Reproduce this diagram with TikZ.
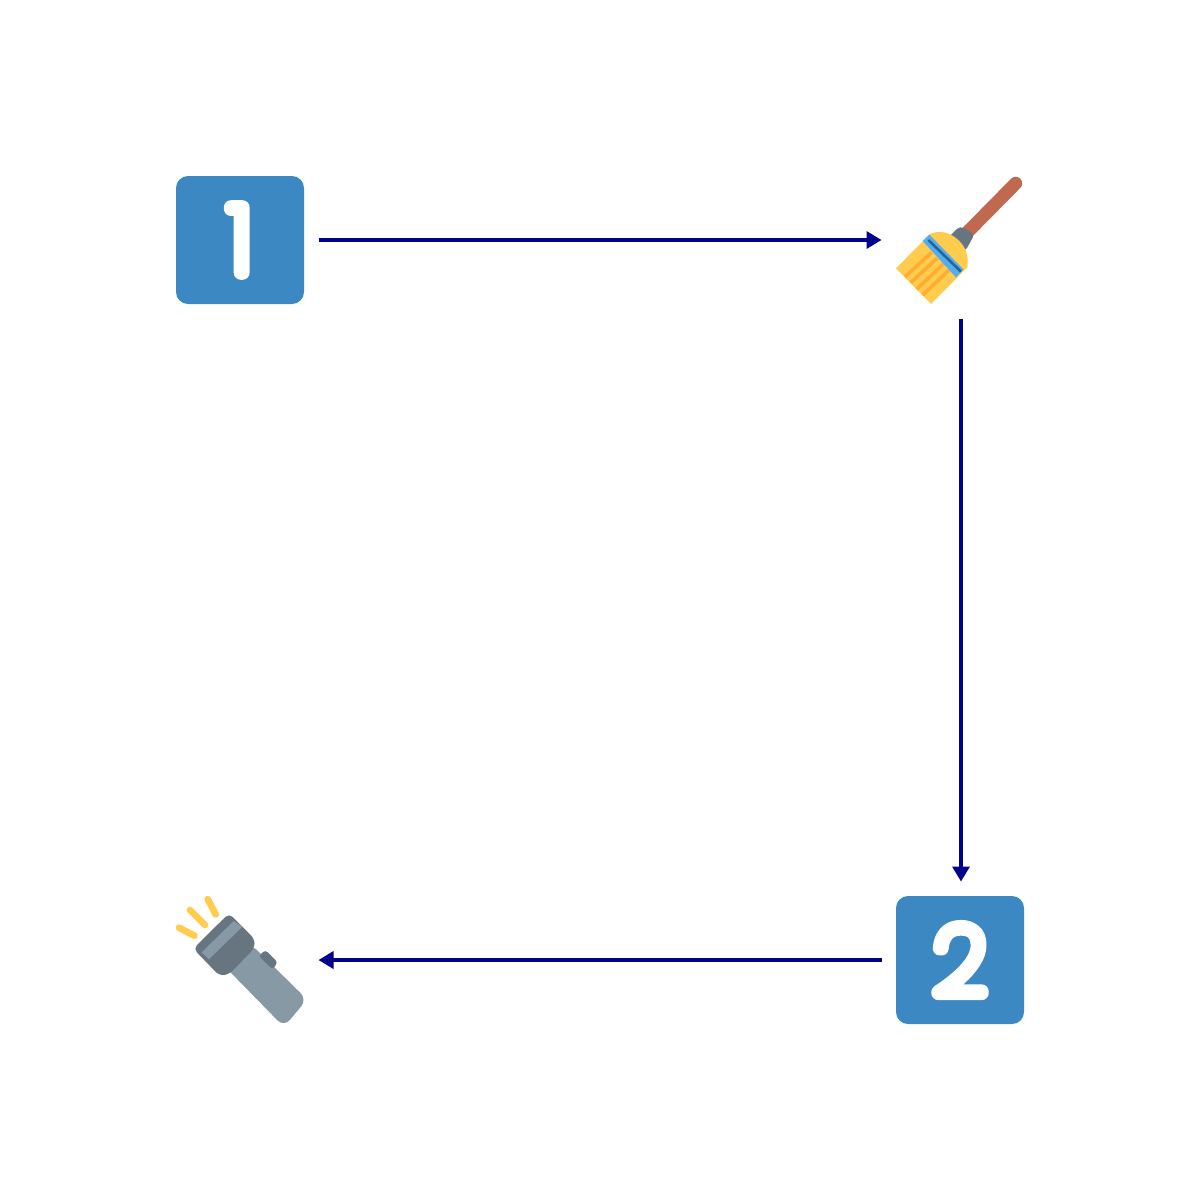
\documentclass[tikz,border=0pt]{standalone}
\usepackage{fontspec}
\setmainfont{Poppins Thin}
\usetikzlibrary{arrows.meta}
\definecolor{keyblue}{HTML}{3B88C3}
\definecolor{flowblue}{HTML}{00008B}
\definecolor{handle}{HTML}{C1694F}
\definecolor{slate}{HTML}{66757F}
\definecolor{steel}{HTML}{8899A6}
\definecolor{straw}{HTML}{FFCC4D}
\definecolor{strawdark}{HTML}{FFAC33}
\definecolor{band}{HTML}{55ACEE}
\definecolor{banddark}{HTML}{226699}
\newcommand{\rounddigit}[1]{\special{pdf:code 2 Tr 14 w 1 j 1 J 1 1 1 RG}#1\special{pdf:code 0 Tr}}
\tikzset{
  cell/.style={minimum size=128pt,inner sep=0pt,outer sep=14.5pt,shape=rectangle},
  keycap/.style={cell,fill=keyblue,rounded corners=12pt,text=white,font=\fontsize{93pt}{93pt}\selectfont},
  flow/.style={draw=flowblue,line width=3.4pt,-{Triangle[length=15pt,width=17pt]}},
  art/.style={shift={(#1)},scale=1/3}
}
\begin{document}
\begin{tikzpicture}[x=1pt,y=-1pt]
\useasboundingbox (0,0) rectangle (1200,1200);
\fill[white] (0,0) rectangle (1200,1200);
\node[keycap] (one) at (240,240) {\rounddigit{1}};
\node[cell] (brush) at (960,240) {};
\node[keycap] (two) at (960,960) {\rounddigit{2}};
\node[cell] (torch) at (240,960) {};
% brush
\begin{scope}[art={880,160}]
\draw[handle,line width=13pt,line cap=round] (262,217) -- (407,70);
\fill[slate,rounded corners=4pt] (205,232) -- (240,198) -- (284,222) -- (255,275) -- cycle;
\fill[straw] (48,325) -- (150,222) .. controls (170,212) and (205,212) .. (235,240) .. controls (262,265) and (266,295) .. (262,322) -- (153,432) -- cycle;
\draw[strawdark,line width=3.6pt] (155,277) -- (75,350) (172,294) -- (92,368) (190,312) -- (110,388) (207,330) -- (128,405);
\fill[band] (128,243) -- (148,224) -- (250,328) -- (228,352) -- cycle;
\draw[banddark,line width=2.6pt] (145,240) -- (243,335);
\end{scope}
% flashlight
\begin{scope}[art={160,880}]
\fill[steel,rounded corners=9pt] (270,190) -- (441,358) -- (372,441) -- (190,255) -- cycle;
\fill[slate,rounded corners=3pt] (296,228) -- (316,210) -- (353,247) -- (338,268) -- cycle;
\fill[slate,rounded corners=5pt] (100,206) -- (207,100) -- (284,177) -- (283,205) -- (207,283) -- (178,287) -- cycle;
\fill[steel] (125,217) -- (221,123) -- (247,140) -- (147,238) -- cycle;
\draw[straw,line width=6.7pt,line cap=round] (57,143) -- (103,167) (90,90) -- (135,135) (143,57) -- (167,103);
\end{scope}
\draw[flow] (one) -- (brush);
\draw[flow] ([xshift=1pt]brush.south) -- ([xshift=1pt]two.north);
\draw[flow] (two) -- (torch);
\end{tikzpicture}
\end{document}
